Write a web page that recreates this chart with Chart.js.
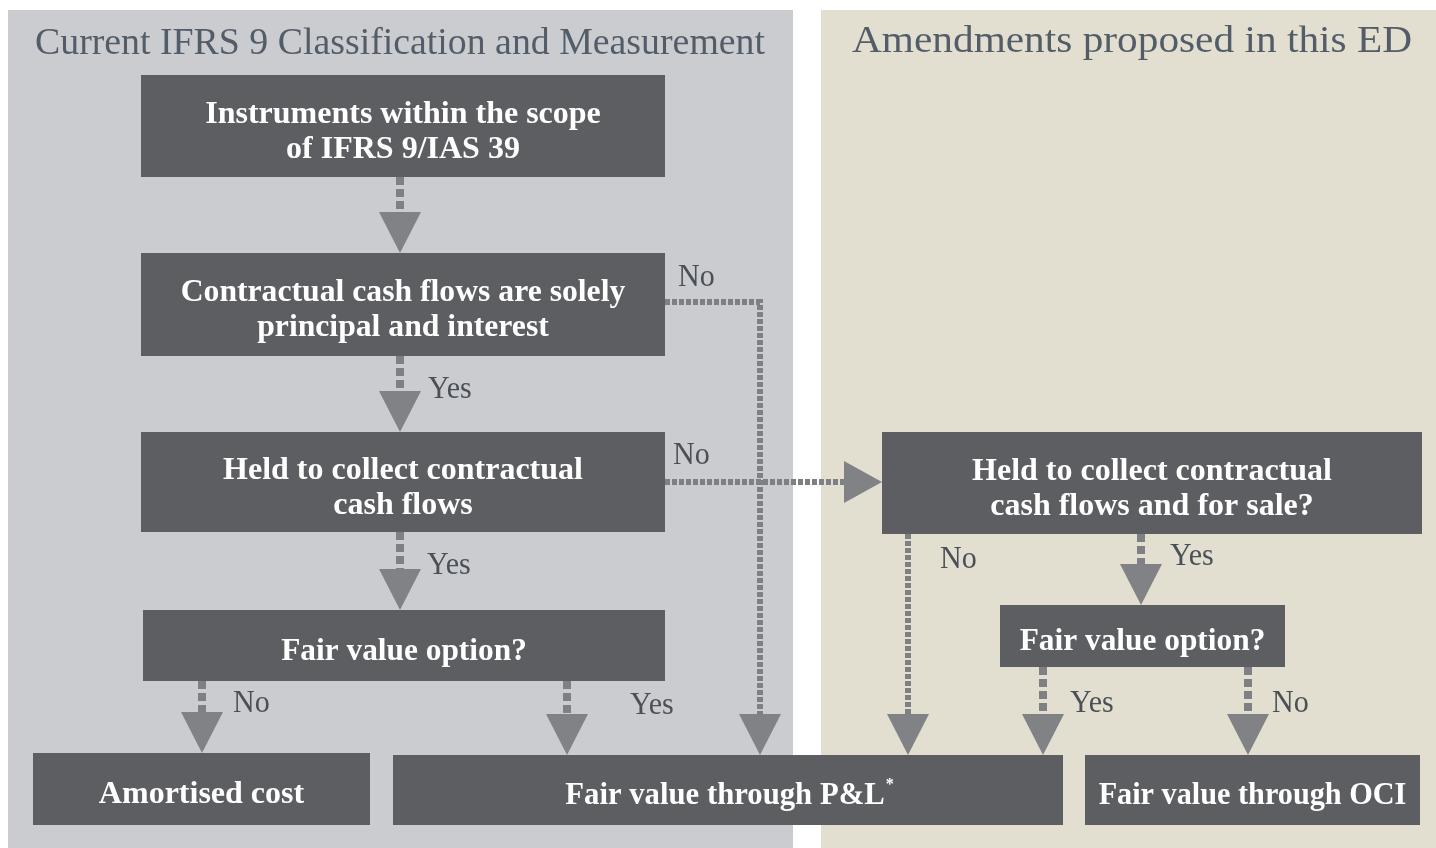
<!DOCTYPE html>
<html>
<head>
<meta charset="utf-8">
<script src="https://cdn.jsdelivr.net/npm/chart.js@4.4.1/dist/chart.umd.min.js"></script>
<style>
html,body{margin:0;padding:0;background:#ffffff;}
#wrap{width:1436px;height:848px;position:relative;}
</style>
</head>
<body>
<div id="wrap"><canvas id="c" width="1436" height="848"></canvas></div>
<script>
// ---------- content (texts) ----------
const panelTitles = ["Current IFRS 9 Classification and Measurement", "Amendments proposed in this ED"];
const nodeLabels = [
  ["Instruments within the scope", "of IFRS 9/IAS 39"],
  ["Contractual cash flows are solely", "principal and interest"],
  ["Held to collect contractual", "cash flows"],
  ["Fair value option?"],
  ["Amortised cost"],
  ["Fair value through P&L*"],
  ["Held to collect contractual", "cash flows and for sale?"],
  ["Fair value option?"],
  ["Fair value through OCI"]
];
const edgeLabels = ["No", "Yes", "No", "Yes", "No", "Yes", "No", "Yes", "Yes", "No"];

// ---------- layout (data-space coordinates, 1436 x 848 space) ----------
const panels = [
  {x0: 8, y0: 10, x1: 793, y1: 848, fill: "#cbcccf", tx: 400, ty: 44, tw: 730},
  {x0: 821, y0: 10, x1: 1436, y1: 848, fill: "#e2dfd0", tx: 1132, ty: 42, tw: 560}
];
const nodeBoxes = [
  [141, 75, 665, 177],
  [141, 253, 665, 356],
  [141, 432, 665, 532],
  [143, 610, 665, 681],
  [33, 753, 370, 825],
  [393, 755, 1063, 825],
  [882, 432, 1422, 534],
  [1000, 605, 1285, 667],
  [1085, 755, 1420, 825]
];
const nodeTextScale = [1, 0.99, 1, 0.98, 1, 0.96, 1, 0.98, 0.945];
const edgeLabelPos = [
  [678, 278], [428, 390], [673, 456], [427, 566], [233, 704], [630, 706],
  [940, 560], [1170, 557], [1070, 704], [1272, 704]
];
// connectors: polyline points + arrow head (tip, direction)
const connectors = [
  {pts: [[400, 177], [400, 212]], head: [400, 253, "down"], w: 8, dash: [8, 4]},
  {pts: [[400, 356], [400, 393]], head: [400, 432, "down"], w: 8, dash: [8, 4]},
  {pts: [[400, 532], [400, 571]], head: [400, 610, "down"], w: 8, dash: [8, 4]},
  {pts: [[202, 681], [202, 713]], head: [202, 753, "down"], w: 8, dash: [8, 4]},
  {pts: [[567, 681], [567, 714]], head: [567, 755, "down"], w: 8, dash: [8, 4]},
  {pts: [[665, 302], [760, 302], [760, 716]], head: [760, 755, "down"], w: 6, dash: [5, 2]},
  {pts: [[665, 482], [846, 482]], head: [882, 482, "right"], w: 6, dash: [5, 2]},
  {pts: [[908, 534], [908, 716]], head: [908, 755, "down"], w: 6, dash: [5, 2]},
  {pts: [[1141, 534], [1141, 567]], head: [1141, 605, "down"], w: 8, dash: [8, 4]},
  {pts: [[1043, 667], [1043, 714]], head: [1043, 755, "down"], w: 8, dash: [8, 4]},
  {pts: [[1248, 667], [1248, 714]], head: [1248, 755, "down"], w: 8, dash: [8, 4]}
];

const BOX = "#5d5e61";
const LINE = "#7f8083";
const HEAD = "#818285";
const TITLE = "#535d69";
const EDGE = "#4b5058";
const SERIF = "'Liberation Serif', 'DejaVu Serif', serif";

const datasets = connectors.map(c => ({
  type: "line",
  data: c.pts.map(p => ({x: p[0], y: p[1]})),
  borderColor: LINE,
  borderWidth: c.w,
  borderDash: c.dash,
  borderCapStyle: "butt",
  borderJoinStyle: "miter",
  pointRadius: 0,
  showLine: true,
  fill: false,
  tension: 0
}));

function drawText(ctx, txt, x, y, font, color, align, sx) {
  ctx.save();
  ctx.font = font;
  ctx.fillStyle = color;
  ctx.textBaseline = "middle";
  ctx.translate(x, y);
  ctx.scale(sx, 1);
  ctx.textAlign = align;
  ctx.fillText(txt, 0, 0);
  ctx.restore();
}

const flowPlugin = {
  id: "flow",
  beforeDatasetsDraw(chart) {
    const ctx = chart.ctx, xs = chart.scales.x, ys = chart.scales.y;
    ctx.save();
    ctx.fillStyle = "#ffffff";
    ctx.fillRect(0, 0, chart.width, chart.height);
    panels.forEach((p, i) => {
      const x0 = xs.getPixelForValue(p.x0), x1 = xs.getPixelForValue(p.x1);
      const y0 = ys.getPixelForValue(p.y0), y1 = ys.getPixelForValue(p.y1);
      ctx.fillStyle = p.fill;
      ctx.fillRect(x0, y0, x1 - x0, y1 - y0);
      const font = "38px " + SERIF;
      ctx.font = font;
      const mw = ctx.measureText(panelTitles[i]).width;
      const tw = xs.getPixelForValue(p.tw) - xs.getPixelForValue(0);
      drawText(ctx, panelTitles[i], xs.getPixelForValue(p.tx), ys.getPixelForValue(p.ty),
        font, TITLE, "center", tw / mw);
    });
    ctx.restore();
  },
  afterDatasetsDraw(chart) {
    const ctx = chart.ctx, xs = chart.scales.x, ys = chart.scales.y;
    ctx.save();
    const BF = "bold 32px " + SERIF;
    // boxes
    nodeBoxes.forEach((b, i) => {
      const x0 = xs.getPixelForValue(b[0]), x1 = xs.getPixelForValue(b[2]);
      const y0 = ys.getPixelForValue(b[1]), y1 = ys.getPixelForValue(b[3]);
      ctx.fillStyle = BOX;
      ctx.fillRect(x0, y0, x1 - x0, y1 - y0);
      const lines = nodeLabels[i];
      const sx = nodeTextScale[i];
      const cx = (x0 + x1) / 2, cy = (y0 + y1) / 2 + 6;
      const lh = 35;
      lines.forEach((t, k) => {
        const y = cy + (k - (lines.length - 1) / 2) * lh;
        if (t.endsWith("*")) {
          const base = t.slice(0, -1);
          ctx.save();
          ctx.font = BF;
          const w = ctx.measureText(base).width * sx;
          ctx.restore();
          drawText(ctx, base, cx - 3, y, BF, "#ffffff", "center", sx);
          drawText(ctx, "*", cx - 3 + w / 2 + 1, y - 11, "bold 16px " + SERIF, "#ffffff", "left", 1);
        } else {
          drawText(ctx, t, cx, y, BF, "#ffffff", "center", sx);
        }
      });
    });
    // arrow heads
    ctx.fillStyle = HEAD;
    connectors.forEach(c => {
      const [hx, hy, dir] = c.head;
      const tx = xs.getPixelForValue(hx), ty = ys.getPixelForValue(hy);
      ctx.beginPath();
      if (dir === "down") {
        ctx.moveTo(tx, ty);
        ctx.lineTo(tx - 21, ty - 41);
        ctx.lineTo(tx + 21, ty - 41);
      } else {
        ctx.moveTo(tx, ty);
        ctx.lineTo(tx - 38, ty - 21);
        ctx.lineTo(tx - 38, ty + 21);
      }
      ctx.closePath();
      ctx.fill();
    });
    // edge labels
    edgeLabels.forEach((t, i) => {
      const p = edgeLabelPos[i];
      drawText(ctx, t, xs.getPixelForValue(p[0]), ys.getPixelForValue(p[1]),
        "31px " + SERIF, EDGE, "left", 0.97);
    });
    ctx.restore();
  }
};

new Chart(document.getElementById("c"), {
  type: "scatter",
  data: {datasets},
  options: {
    responsive: false,
    animation: false,
    events: [],
    layout: {padding: 0},
    plugins: {legend: {display: false}, tooltip: {enabled: false}, title: {display: false}},
    scales: {
      x: {type: "linear", min: 0, max: 1436, display: false},
      y: {type: "linear", min: 0, max: 848, reverse: true, display: false}
    }
  },
  plugins: [flowPlugin]
});
</script>
</body>
</html>
